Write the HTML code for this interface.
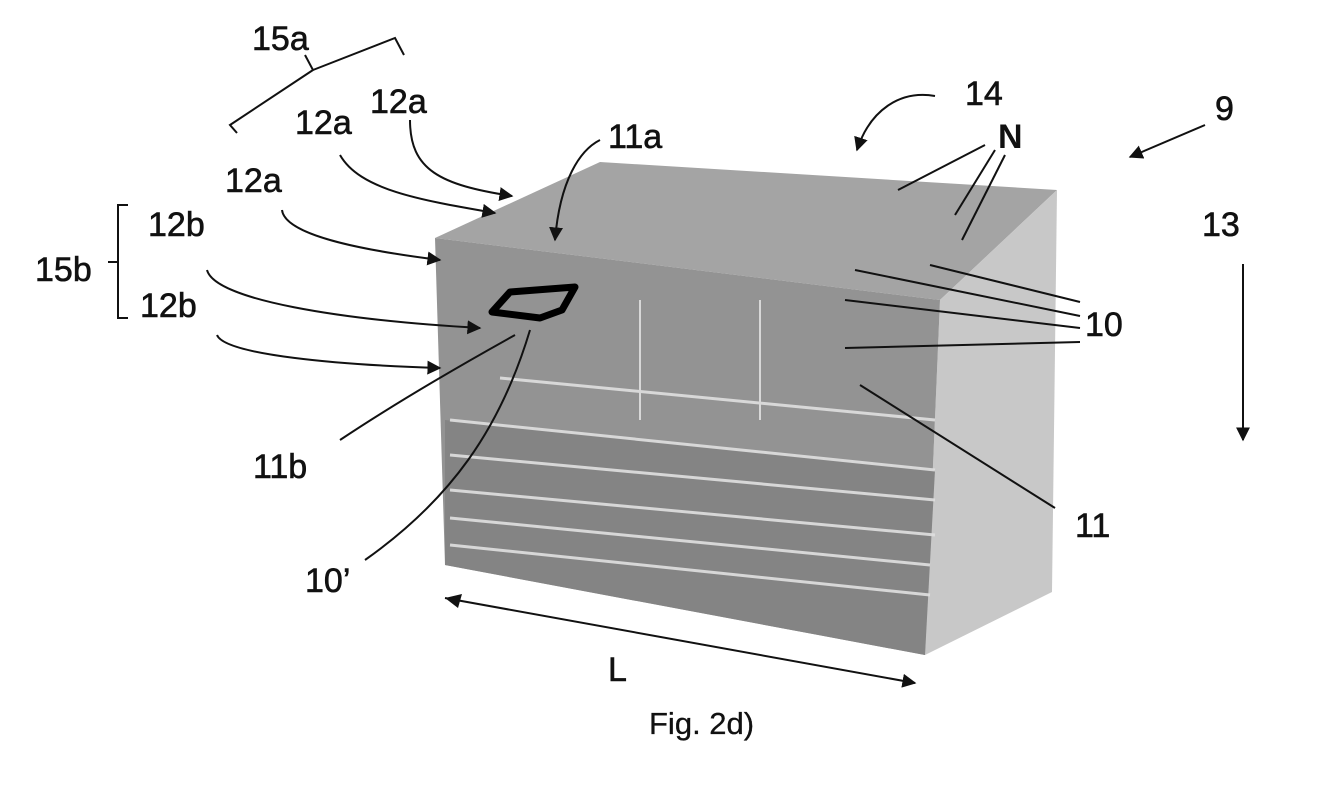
<!DOCTYPE html>
<html><head><style>
html,body{margin:0;padding:0;background:#fff;}
svg{display:block;}
text{font-family:"Liberation Sans",sans-serif;fill:#111;}
</style></head><body>
<svg width="1339" height="786" viewBox="0 0 1339 786" xmlns="http://www.w3.org/2000/svg">
<defs>
<marker id="ah" viewBox="0 0 10 10" refX="9" refY="5" markerWidth="7" markerHeight="7" orient="auto"><path d="M0,0 L10,5 L0,10 z" fill="#111"/></marker>
</defs>
<!-- cube -->
<polygon points="435,238 600,162 1057,190 940,300" fill="#a4a4a4"/>
<polygon points="940,300 1057,190 1052,592 925,655" fill="#c8c8c8"/>
<polygon points="435,238 940,300 925,655 445,565" fill="#939393"/>
<polygon points="445,420 935,470 925,655 445,565" fill="#848484"/>
<g stroke="#e0e0e0" stroke-width="3" opacity="0.9">
<line x1="500" y1="378" x2="935" y2="420"/>
<line x1="450" y1="420" x2="935" y2="470"/>
<line x1="450" y1="455" x2="935" y2="500"/>
<line x1="450" y1="490" x2="935" y2="535"/>
<line x1="450" y1="518" x2="930" y2="565"/>
<line x1="450" y1="545" x2="930" y2="595"/>
<line x1="640" y1="300" x2="640" y2="420" stroke-width="2"/>
<line x1="760" y1="300" x2="760" y2="420" stroke-width="2"/>
</g>
<path d="M492,312 L510,292 L575,287 L562,310 L540,318 Z" fill="none" stroke="#000" stroke-width="7" stroke-linejoin="round"/>
<g fill="none" stroke="#111" stroke-width="2">
<path d="M410,120 C410,170 440,185 512,196" marker-end="url(#ah)"/>
<path d="M340,155 C360,190 420,200 495,213" marker-end="url(#ah)"/>
<path d="M282,210 C285,235 360,250 440,260" marker-end="url(#ah)"/>
<path d="M207,270 C215,300 340,320 480,328" marker-end="url(#ah)"/>
<path d="M217,335 C225,355 340,365 440,368" marker-end="url(#ah)"/>
<path d="M600,140 C580,150 560,180 555,240" marker-end="url(#ah)"/>
<path d="M935,96 C900,90 870,110 857,150" marker-end="url(#ah)"/>
<path d="M1205,125 L1130,157" marker-end="url(#ah)"/>
<line x1="1243" y1="264" x2="1243" y2="440" marker-end="url(#ah)"/>
<line x1="985" y1="145" x2="898" y2="190"/>
<line x1="995" y1="150" x2="955" y2="215"/>
<line x1="1005" y1="155" x2="962" y2="240"/>
<line x1="1080" y1="302" x2="930" y2="265"/>
<line x1="1080" y1="316" x2="855" y2="270"/>
<line x1="1080" y1="328" x2="845" y2="300"/>
<line x1="1080" y1="342" x2="845" y2="348"/>
<line x1="1055" y1="508" x2="860" y2="385"/>
<path d="M340,440 C400,400 470,360 515,335"/>
<path d="M365,560 C450,500 500,430 530,330"/>
<path d="M445,598 L915,683" marker-end="url(#ah)"/>
<path d="M237,133 L230,125 L313,70 L305,55 M313,70 L395,38 L404,55"/>
<path d="M128,205 L118,205 L118,318 L128,318 M108,262 L118,262"/>
</g>
<polygon points="445,598 462,594 458,608" fill="#111"/>
<g font-size="34" stroke="#111" stroke-width="0.6">
<text x="252" y="50">15a</text>
<text x="370" y="113">12a</text>
<text x="295" y="134">12a</text>
<text x="225" y="192">12a</text>
<text x="148" y="236">12b</text>
<text x="35" y="281">15b</text>
<text x="140" y="317">12b</text>
<text x="608" y="148">11a</text>
<text x="965" y="105">14</text>
<text x="1215" y="120">9</text>
<text x="1202" y="236">13</text>
<text x="1085" y="336">10</text>
<text x="1075" y="537">11</text>
<text x="253" y="478">11b</text>
<text x="305" y="592">10’</text>
<text x="608" y="681">L</text>
<text x="649" y="734" font-size="31" stroke-width="0.3">Fig. 2d)</text>
</g>
<text x="998" y="148" font-size="34" font-weight="bold">N</text>
</svg>
</body></html>
